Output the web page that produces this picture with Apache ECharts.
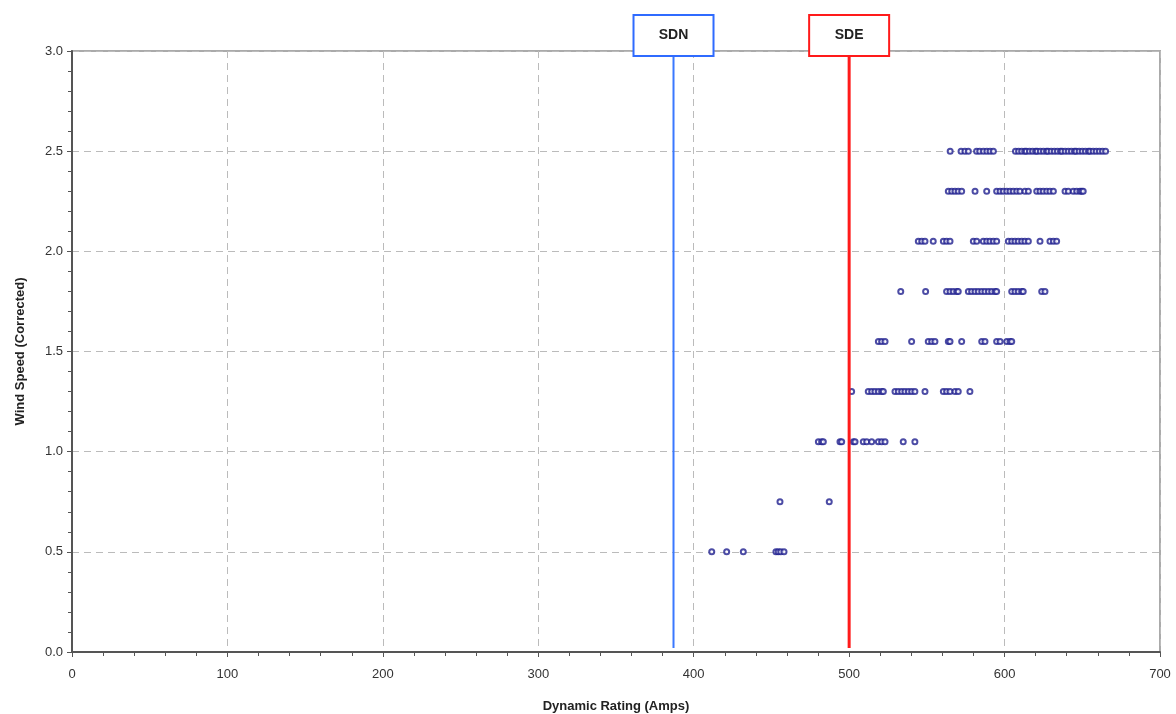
<!DOCTYPE html>
<html><head><meta charset="utf-8">
<script src="https://cdn.jsdelivr.net/npm/echarts@6/dist/echarts.min.js"></script>
<style>html,body{margin:0;padding:0;background:#fff}#c{width:1176px;height:714px}</style>
</head><body><div id="c"></div>
<script>
// Wind speed rows and dynamic rating values (Amps)
const row250 = [565,572,574.5,576.7,582,584,586.4,588.6,590.7,592.8,607,609,611,613,614,616,618,620,621,623,625,627,628,630,632,634,636,637,639,641,643,645,646,648,650,652,654,655,657,659,661,663,665];
const row230 = [563.8,566,568.1,570.2,572.4,581,588.5,594.9,597.1,599.2,601.4,603.5,605.6,607.8,609.9,613.1,615.3,620.7,622.8,624.9,627.1,629.2,631.4,638.9,641,644.2,646.4,648.5,649.6,650.6];
const row205 = [544.5,546.7,548.8,554.1,560.6,562.7,564.9,579.9,582.1,586.3,588.5,590.6,592.8,594.9,602.4,604.6,606.7,608.8,611,613.1,615.3,622.8,629.2,631.4,633.5];
const row180 = [533.2,549.2,562.7,564.9,567,569.2,570.2,576.7,578.8,581,583.1,585.3,587.4,589.6,591.7,593.9,594.9,604.6,606.7,608.8,611,612,623.9,626];
const row155 = [518.8,520.9,523.1,540.2,550.9,553.1,555.2,563.8,564.9,572.4,585.3,587.4,594.9,597.1,601.4,603.5,604.6];
const row130 = [501.6,512.3,514.5,516.6,518.8,520.9,522,529.5,531.6,533.8,535.9,538.1,540.2,542.3,548.8,560.6,562.7,564.9,568.1,570.2,577.7];
const row105 = [480.2,482.3,483.4,494.1,495.2,502.7,503.8,509.1,511.3,514.5,518.8,520.9,523.1,534.8,542.3];
const row075 = [455.5,487.2];
const row050 = [411.6,421.2,431.9,452.9,454.4,456,458.1];
const rows = [[2.5,row250],[2.3,row230],[2.05,row205],[1.8,row180],[1.55,row155],[1.3,row130],[1.05,row105],[0.75,row075],[0.5,row050]];
const xTicks = [0,100,200,300,400,500,600,700];
const yTicks = [0,0.5,1,1.5,2,2.5,3];
const SDN = 387, SDE = 500;
const lineSpan = [0.02, 2.97];

const points = [];
rows.forEach(([w, arr]) => arr.forEach(v => points.push([v, w])));

const chart = echarts.init(document.getElementById('c'));
const font = 'Arial, "Liberation Sans", sans-serif';
chart.setOption({
  animation: false,
  grid: {left: 72, right: 16, top: 51, bottom: 62, containLabel: false, outerBoundsMode: 'none',
         show: true, borderColor: '#aaa', borderWidth: 2, backgroundColor: '#fff'},
  xAxis: {
    type: 'value', min: 0, max: 700, interval: 100,
    name: 'Dynamic Rating (Amps)', nameLocation: 'middle', nameGap: 48,
    nameTextStyle: {fontFamily: font, fontWeight: 'bold', fontSize: 13, color: '#222'},
    axisLine: {lineStyle: {color: '#555', width: 2}},
    axisTick: {show: true, inside: false, length: 5, lineStyle: {color: '#555'}},
    minorTick: {show: true, splitNumber: 5, length: 4, lineStyle: {color: '#555'}},
    axisLabel: {fontFamily: font, fontSize: 13, color: '#333', margin: 16},
    splitLine: {show: true, lineStyle: {color: '#bbb', type: [7, 5], width: 1}}
  },
  yAxis: {
    type: 'value', min: 0, max: 3, interval: 0.5,
    name: 'Wind Speed (Corrected)', nameLocation: 'middle', nameGap: 45,
    nameTextStyle: {fontFamily: font, fontWeight: 'bold', fontSize: 13, color: '#222'},
    axisLine: {show: true, lineStyle: {color: '#555', width: 2}},
    axisTick: {show: true, length: 5, lineStyle: {color: '#555'}},
    minorTick: {show: true, splitNumber: 5, length: 4, lineStyle: {color: '#555'}},
    axisLabel: {fontFamily: font, fontSize: 13, color: '#333', margin: 9, formatter: v => v.toFixed(1)},
    splitLine: {show: true, lineStyle: {color: '#bbb', type: [7, 5], width: 1}}
  },
  series: [
    {type: 'scatter', data: points, symbol: 'emptyCircle', symbolSize: 5,
     itemStyle: {color: '#1f1f8f', borderColor: '#1f1f8f', borderWidth: 1.3}, z: 3},
    {type: 'line', data: [[SDN, lineSpan[0]], [SDN, lineSpan[1]]], symbol: 'none',
     lineStyle: {color: '#3a78ff', width: 2}, z: 4},
    {type: 'line', data: [[SDE, lineSpan[0]], [SDE, lineSpan[1]]], symbol: 'none',
     lineStyle: {color: '#ff1a1a', width: 3}, z: 4}
  ]
});

function box(x, label, color) {
  const p = chart.convertToPixel({gridIndex: 0}, [x, 3]);
  return {
    type: 'group', z: 10,
    children: [
      {type: 'rect', shape: {x: p[0] - 40, y: p[1] - 36, width: 80, height: 41},
       style: {fill: '#fff', stroke: color, lineWidth: 2}},
      {type: 'text', x: p[0], y: p[1] - 15.5,
       style: {text: label, fontFamily: font, fontWeight: 'bold', fontSize: 14, fill: '#222', align: 'center', verticalAlign: 'middle'}}
    ]
  };
}
chart.setOption({graphic: [box(SDN, 'SDN', '#2f6bff'), box(SDE, 'SDE', '#ff1a1a')]});
</script>
</body></html>
